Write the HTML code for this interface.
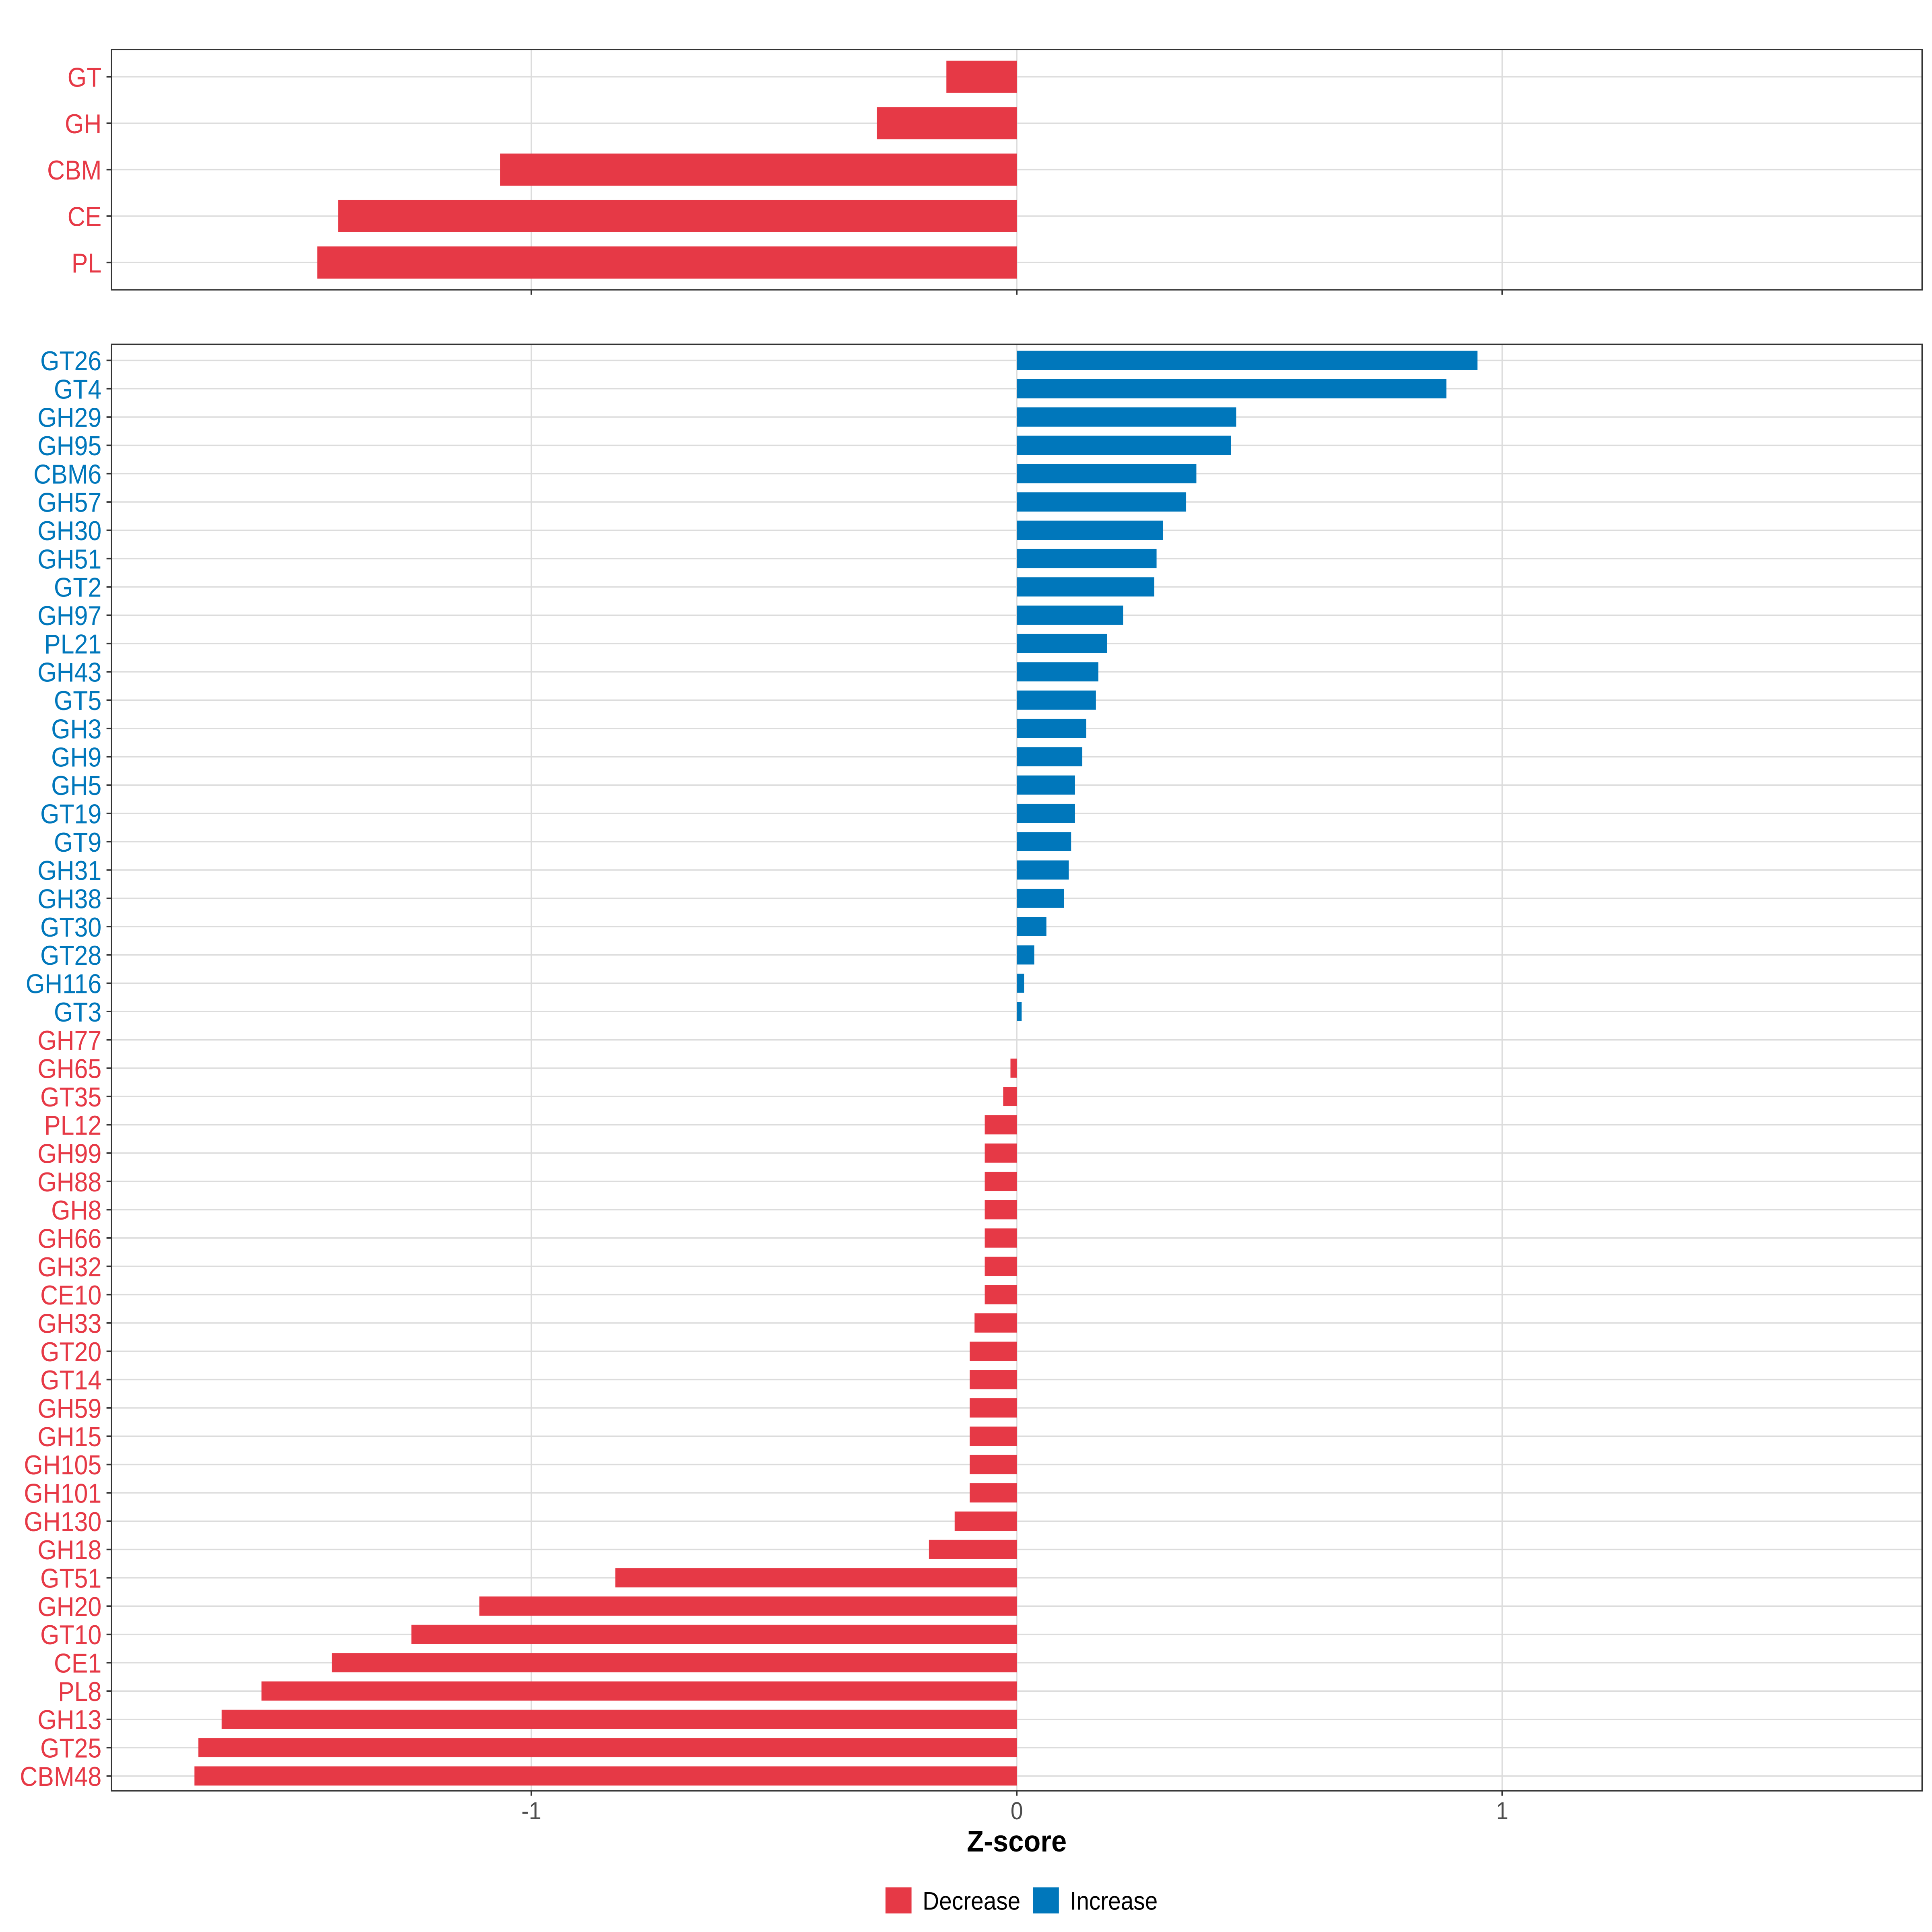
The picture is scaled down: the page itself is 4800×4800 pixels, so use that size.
<!DOCTYPE html>
<html><head><meta charset="utf-8"><style>
html,body{margin:0;padding:0;background:#fff;}
svg{display:block;font-family:"Liberation Sans",Arial,sans-serif;}
</style></head><body>
<svg id="chart" width="4800" height="4800" viewBox="0 0 1560 1560" xmlns="http://www.w3.org/2000/svg">
<g id="top"></g>
<g id="bottom"></g>
<text transform="translate(821,1495) scale(0.93,1)" text-anchor="middle" font-size="24" font-weight="bold" fill="#000">Z-score</text>
<g>
<rect x="715" y="1524" width="21" height="21" fill="#E63946"/>
<text transform="translate(745,1542) scale(0.9,1)" font-size="20.5" fill="#000">Decrease</text>
<rect x="834" y="1524" width="21" height="21" fill="#0077BB"/>
<text transform="translate(864,1542) scale(0.9,1)" font-size="20.5" fill="#000">Increase</text>
</g>
</svg>
<script>
const topCats = ["GT","GH","CBM","CE","PL"];
const topVals = [-0.145,-0.288,-1.064,-1.398,-1.441];
const botCats = ["GT26","GT4","GH29","GH95","CBM6","GH57","GH30","GH51","GT2","GH97","PL21","GH43","GT5","GH3","GH9","GH5","GT19","GT9","GH31","GH38","GT30","GT28","GH116","GT3","GH77","GH65","GT35","PL12","GH99","GH88","GH8","GH66","GH32","CE10","GH33","GT20","GT14","GH59","GH15","GH105","GH101","GH130","GH18","GT51","GH20","GT10","CE1","PL8","GH13","GT25","CBM48"];
const botVals = [0.949,0.885,0.452,0.441,0.370,0.349,0.301,0.288,0.283,0.219,0.186,0.168,0.163,0.143,0.135,0.12,0.12,0.112,0.107,0.097,0.061,0.036,0.015,0.01,-0.0001,-0.013,-0.028,-0.066,-0.066,-0.066,-0.066,-0.066,-0.066,-0.066,-0.087,-0.097,-0.097,-0.097,-0.097,-0.097,-0.097,-0.128,-0.181,-0.827,-1.107,-1.247,-1.411,-1.556,-1.638,-1.686,-1.694];
const xTicks = [-1,0,1];
const xTickLabels = ["-1","0","1"];

const NS="http://www.w3.org/2000/svg";
const L=90,R=1552,XMIN=-1.865,XMAX=1.865;
const xs=v=>L+(v-XMIN)/(XMAX-XMIN)*(R-L);
const RED="#E63946",BLUE="#0077BB";
function mk(parent,tag,attrs){const e=document.createElementNS(NS,tag);for(const k in attrs)e.setAttribute(k,attrs[k]);parent.appendChild(e);return e;}

function panel(g,cats,vals,T,B,firstY,step,barH,showLabels){
  mk(g,"rect",{x:L,y:T,width:R-L,height:B-T,fill:"#fff"});
  cats.forEach((c,i)=>{const y=firstY+i*step;mk(g,"line",{x1:L,x2:R,y1:y,y2:y,stroke:"#dcdcdc","stroke-width":1.1});});
  xTicks.forEach(t=>{mk(g,"line",{x1:xs(t),x2:xs(t),y1:T,y2:B,stroke:"#dcdcdc","stroke-width":1.1});});
  cats.forEach((c,i)=>{
    const y=firstY+i*step,v=vals[i],col=v>0?BLUE:RED;
    const x0=xs(0),x1=xs(v);
    const r=mk(g,"rect",{x:Math.min(x0,x1),y:y-barH/2,width:Math.abs(x1-x0),height:barH,fill:col});
    
    
    mk(g,"line",{x1:L-4,x2:L,y1:y,y2:y,stroke:"#333","stroke-width":1.2});
    const t=mk(g,"text",{transform:"translate("+(L-8)+","+(y+8)+") scale(0.9,1)","text-anchor":"end","font-size":22,fill:col});
    t.textContent=c;
    
    
  });
  mk(g,"rect",{x:L,y:T,width:R-L,height:B-T,fill:"none",stroke:"#333","stroke-width":1.1});
  xTicks.forEach((t,i)=>{
    mk(g,"line",{x1:xs(t),x2:xs(t),y1:B,y2:B+4,stroke:"#333","stroke-width":1.2});
    if(showLabels){const tx=mk(g,"text",{transform:"translate("+xs(t)+","+(B+23)+") scale(0.9,1)","text-anchor":"middle","font-size":20,fill:"#4d4d4d"});
      tx.textContent=xTickLabels[i];
      
      }
  });
}
panel(document.getElementById("top"),topCats,topVals,40,234,62,37.5,26,false);
panel(document.getElementById("bottom"),botCats,botVals,278,1446,291,22.86,15.5,true);
</script>
</body></html>
